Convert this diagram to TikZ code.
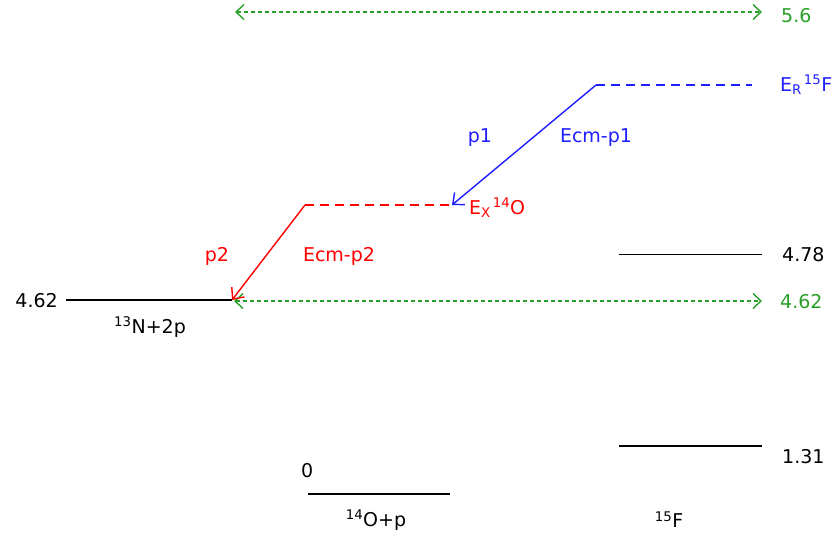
\documentclass[tikz,border=0pt]{standalone}
\usepackage{fontspec}
\setmainfont{DejaVu Sans}
\usetikzlibrary{arrows.meta}
\definecolor{lgreen}{RGB}{40,160,40}
\definecolor{lblue}{RGB}{30,30,255}
\definecolor{lred}{RGB}{255,0,0}
\begin{document}
\begin{tikzpicture}[x=1pt,y=-1pt,
  lbl/.style={font=\fontsize{19}{22}\selectfont, inner sep=0pt},
  level/.style={line width=2.6pt},
  thinlevel/.style={line width=1pt},
  dashlevel/.style={line width=2.6pt, dash pattern=on 9pt off 6pt},
  gap/.style={lgreen, line width=1.4pt, dash pattern=on 4pt off 3pt, {Straight Barb[length=8pt,width=15pt,line width=1.4pt]}-{Straight Barb[length=8pt,width=15pt,line width=1.4pt]}},
  decay/.style={line width=1.4pt, -{Straight Barb[length=9pt,width=16pt,line width=1.4pt]}}]
\useasboundingbox (0,0) rectangle (835,535);
% coordinates
\coordinate (na) at (66,300); \coordinate (nb) at (232,300);
\coordinate (oa) at (308,494); \coordinate (ob) at (450,494);
\coordinate (fa) at (619,446); \coordinate (fb) at (762,446);
\coordinate (ta) at (619,254); \coordinate (tb) at (762,254);
\coordinate (ra) at (596,85); \coordinate (rb) at (752,85);
\coordinate (xa) at (305,205); \coordinate (xb) at (452,205);
\coordinate (ga) at (235,12); \coordinate (gb) at (762,12);
\coordinate (ha) at (234,301); \coordinate (hb) at (762,301);
% levels
\draw[level] (na) -- (nb);
\draw[level] (oa) -- (ob);
\draw[level] (fa) -- (fb);
\draw[thinlevel] (ta) -- (tb);
\draw[dashlevel, lblue] (ra) -- (rb);
\draw[dashlevel, lred] (xa) -- (xb);
% arrows
\draw[gap] (ga) -- (gb);
\draw[gap] (ha) -- (hb);
\draw[decay, lblue] (ra) -- (xb);
\draw[decay, lred] (xa) -- (nb);
% labels
\node[lbl, anchor=east] (l462) at (58,301) {4.62};
\node[lbl] (n13) at (150,327) {\textsuperscript{13}N+2p};
\node[lbl, anchor=west] (l0) at (301,471) {0};
\node[lbl] (o14) at (376,520) {\textsuperscript{14}O+p};
\node[lbl] (f15) at (669,520) {\textsuperscript{15}F};
\node[lbl, anchor=west] (l131) at (782,457) {1.31};
\node[lbl, anchor=west] (l478) at (782,255) {4.78};
\node[lbl, anchor=west, lgreen] (g462) at (780,302) {4.62};
\node[lbl, anchor=west, lgreen] (g56) at (781,16) {5.6};
\node[lbl, anchor=west, lblue] (er) at (780,85) {E\textsubscript{R}\kern2pt\textsuperscript{15}F};
\node[lbl, anchor=west, lred] (ex) at (469,208) {E\textsubscript{X}\kern2pt\textsuperscript{14}O};
\node[lbl, lblue] (p1) at (480,138) {p1};
\node[lbl, lblue] (ecm1) at (596,138) {Ecm-p1};
\node[lbl, lred] (p2) at (217,256) {p2};
\node[lbl, lred] (ecm2) at (339,256) {Ecm-p2};
\end{tikzpicture}
\end{document}
